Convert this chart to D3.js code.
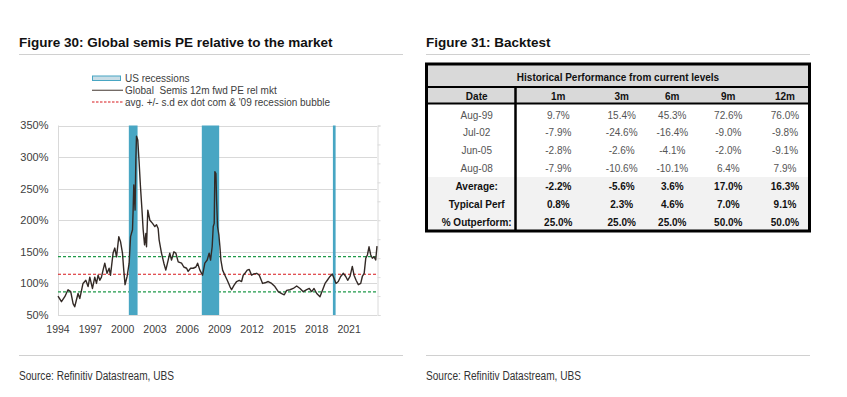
<!DOCTYPE html>
<html>
<head>
<meta charset="utf-8">
<script src="https://cdn.jsdelivr.net/npm/d3@7"></script>
<style>
  body { margin: 0; background: #fff; }
  svg { display: block; font-family: "Liberation Sans", Arial, sans-serif; }
</style>
</head>
<body>
<div id="chart"></div>
<script>
// ---- Figure 30 data ----
const semisDates = [
  1994.60, 1994.92, 1995.23, 1995.53, 1995.78, 1996.00, 1996.15, 1996.46, 1996.62, 1996.92,
  1997.18, 1997.39, 1997.55, 1997.80, 1998.01, 1998.17, 1998.32, 1998.48, 1998.63, 1998.78,
  1998.94, 1999.15, 1999.34, 1999.47, 1999.71, 1999.87, 2000.03, 2000.24, 2000.40, 2000.58,
  2000.70, 2000.82, 2001.01, 2001.20, 2001.33, 2001.51, 2001.57, 2001.63, 2001.75, 2001.82,
  2001.88, 2002.00, 2002.12, 2002.25, 2002.38, 2002.50, 2002.63, 2002.75, 2002.81, 2002.93,
  2003.12, 2003.37, 2003.58, 2003.74, 2003.89, 2003.98, 2004.20, 2004.42, 2004.60, 2004.82,
  2004.97, 2005.13, 2005.35, 2005.53, 2005.75, 2006.06, 2006.27, 2006.53, 2006.67, 2006.90,
  2007.14, 2007.39, 2007.55, 2007.76, 2008.01, 2008.22, 2008.44, 2008.62, 2008.75, 2008.90,
  2009.00, 2009.09, 2009.15, 2009.25, 2009.31, 2009.40, 2009.52, 2009.62, 2009.71, 2009.87,
  2010.08, 2010.30, 2010.55, 2010.70, 2010.92, 2011.17, 2011.41, 2011.63, 2011.78, 2011.94,
  2012.15, 2012.34, 2012.56, 2012.77, 2013.03, 2013.27, 2013.58, 2013.80, 2014.10, 2014.42,
  2014.72, 2015.03, 2015.35, 2015.59, 2015.81, 2016.12, 2016.42, 2016.74, 2017.05, 2017.35,
  2017.67, 2017.91, 2018.13, 2018.35, 2018.60, 2018.90, 2019.15, 2019.37, 2019.58, 2019.83,
  2020.04, 2020.20, 2020.39, 2020.60, 2020.82, 2021.07, 2021.29, 2021.47, 2021.69, 2021.90,
  2022.06, 2022.25, 2022.46, 2022.68, 2022.83, 2023.00, 2023.15, 2023.30, 2023.45, 2023.61,
  2023.76, 2023.92, 2024.07, 2024.19
];
const semisValues = [
  80, 71, 79, 90, 87, 68, 63, 84, 76, 100,
  105, 95, 110, 92, 110, 100, 113, 105, 110, 121,
  132, 116, 124, 113, 148, 156, 142, 174, 166, 148,
  121, 98, 111, 132, 174, 185, 216, 256, 216, 295,
  333, 327, 293, 253, 219, 185, 161, 179, 158, 216,
  200, 195, 190, 193, 187, 169, 148, 132, 121, 137,
  148, 137, 150, 148, 134, 132, 126, 124, 119, 124,
  124, 126, 132, 121, 113, 132, 137, 148, 137, 158,
  190, 195, 277, 274, 232, 190, 177, 158, 137, 121,
  113, 105, 95, 90, 97, 103, 105, 103, 113, 116,
  121, 122, 113, 115, 116, 113, 100, 101, 103, 100,
  95, 87, 84, 82, 89, 90, 92, 96, 92, 87,
  90, 92, 87, 92, 84, 79, 90, 100, 105, 111,
  115, 108, 100, 103, 111, 116, 111, 105, 111, 127,
  113, 105, 98, 100, 111, 116, 140, 145, 158, 145,
  140, 142, 137, 159
];
const recessionStarts = [2001.17, 2007.94, 2020.10];
const recessionEnds = [2001.98, 2009.55, 2020.35];
const avgLevel = 114.5;
const sdLevel = 28;
const yTicks = [50, 100, 150, 200, 250, 300, 350];
const xTickLabels = ["1994", "1997", "2000", "2003", "2006", "2009", "2012", "2015", "2018", "2021"];
const legendLabels = ["US recessions", "Global  Semis 12m fwd PE rel mkt", "avg. +/- s.d ex dot com & '09 recession bubble"];

// ---- Figure 31 data ----
const tableTitle = "Historical Performance from current levels";
const periods = ["1m", "3m", "6m", "9m", "12m"];
const startDates = ["Aug-99", "Jul-02", "Jun-05", "Aug-08"];
const perfAug99 = ["9.7%", "15.4%", "45.3%", "72.6%", "76.0%"];
const perfJul02 = ["-7.9%", "-24.6%", "-16.4%", "-9.0%", "-9.8%"];
const perfJun05 = ["-2.8%", "-2.6%", "-4.1%", "-2.0%", "-9.1%"];
const perfAug08 = ["-7.9%", "-10.6%", "-10.1%", "6.4%", "7.9%"];
const summaryLabels = ["Average:", "Typical Perf", "% Outperform:"];
const avgPerf = ["-2.2%", "-5.6%", "3.6%", "17.0%", "16.3%"];
const typicalPerf = ["0.8%", "2.3%", "4.6%", "7.0%", "9.1%"];
const outperform = ["25.0%", "25.0%", "25.0%", "50.0%", "50.0%"];

const svg = d3.select("#chart").append("svg").attr("width", 847).attr("height", 397);

// ---- headings, rules, sources ----
function frame(x0, x1, title) {
  svg.append("text").attr("x", x0).attr("y", 47).style("font-size", "13.5px")
    .style("font-weight", "bold").attr("fill", "#111").text(title);
  svg.append("line").attr("x1", x0).attr("x2", x1).attr("y1", 54.5).attr("y2", 54.5)
    .attr("stroke", "#d0d0d0");
  svg.append("line").attr("x1", x0).attr("x2", x1).attr("y1", 355.5).attr("y2", 355.5)
    .attr("stroke", "#d0d0d0");
  // condensed face is not installed, so squeeze the regular one
  svg.append("text").attr("x", x0).attr("y", 380)
    .style("font-size", "12px").attr("textLength", 155).attr("lengthAdjust", "spacingAndGlyphs")
    .attr("fill", "#333").text("Source: Refinitiv Datastream, UBS");
}
frame(19, 403, "Figure 30: Global semis PE relative to the market");
frame(426, 810, "Figure 31: Backtest");

// ---- Figure 30 chart ----
const plot = { left: 58, right: 377, top: 125.5, bottom: 315 };
const x = d3.scaleLinear().domain([semisDates[0], semisDates[semisDates.length - 1]]).range([plot.left, plot.right]);
const y = d3.scaleLinear().domain([50, 350]).range([plot.bottom, plot.top]);
const chart = svg.append("g");

chart.append("g").selectAll("line").data(yTicks).enter().append("line")
  .attr("x1", plot.left).attr("x2", plot.right)
  .attr("y1", (d) => Math.round(y(d)) + 0.5).attr("y2", (d) => Math.round(y(d)) + 0.5)
  .attr("stroke", "#d9d9d9");
chart.append("line").attr("x1", plot.left + 0.5).attr("x2", plot.left + 0.5)
  .attr("y1", plot.top).attr("y2", plot.bottom).attr("stroke", "#d9d9d9");

// faint ticks of the hidden secondary axis on the right
const yRec = d3.scaleLinear().domain([0, 1]).range([plot.bottom, plot.top]);
const right = chart.append("g").attr("transform", "translate(" + (plot.right + 0.5) + ",0)")
  .call(d3.axisRight(yRec).ticks(10).tickSize(3).tickFormat(""));
right.select(".domain").attr("stroke", "#dadada");
right.selectAll(".tick line").attr("stroke", "#dadada");

const dash = (level, color) =>
  chart.append("line").attr("x1", plot.left).attr("x2", plot.right)
    .attr("y1", y(level)).attr("y2", y(level))
    .attr("stroke", color).attr("stroke-width", 1.2).attr("stroke-dasharray", "3,2");
dash(avgLevel + sdLevel, "#1f9a4a");
dash(avgLevel - sdLevel, "#1f9a4a");
dash(avgLevel, "#d7191c");

chart.append("g").selectAll("rect").data(recessionStarts).enter().append("rect")
  .attr("x", (d) => x(d)).attr("y", plot.top)
  .attr("width", (d, i) => x(recessionEnds[i]) - x(d)).attr("height", plot.bottom - plot.top)
  .attr("fill", "#48a6c3");

chart.append("path")
  .datum(semisDates.map((d, i) => [d, semisValues[i]]))
  .attr("fill", "none").attr("stroke", "#332a26").attr("stroke-width", 1.4)
  .attr("stroke-linejoin", "round")
  .attr("d", d3.line().x((d) => x(d[0])).y((d) => y(d[1])));

chart.append("g").selectAll("text").data(yTicks).enter().append("text")
  .attr("x", 48.5).attr("y", (d) => y(d)).attr("dy", "0.35em").attr("text-anchor", "end")
  .style("font-size", "11px").attr("fill", "#404040").text((d) => d + "%");

const monthOffset = semisDates[0] % 1;
chart.append("g").selectAll("text").data(xTickLabels).enter().append("text")
  .attr("x", (d) => x(+d + monthOffset)).attr("y", 329).attr("dy", "0.35em")
  .attr("text-anchor", "middle").style("font-size", "10.5px").attr("fill", "#404040").text((d) => d);

// legend
const legend = svg.append("g").style("font-size", "10px").attr("fill", "#404040");
const legendY = [78.5, 90.3, 102];
legend.append("rect").attr("x", 92.5).attr("y", 76).attr("width", 28).attr("height", 4.5)
  .attr("fill", "#c9dde6").attr("stroke", "#48a6c3");
legend.append("line").attr("x1", 92).attr("x2", 123).attr("y1", legendY[1]).attr("y2", legendY[1])
  .attr("stroke", "#6d645e").attr("stroke-width", 1.3);
legend.append("line").attr("x1", 92).attr("x2", 123).attr("y1", legendY[2]).attr("y2", legendY[2])
  .attr("stroke", "#d7191c").attr("stroke-width", 1.1).attr("stroke-dasharray", "2.5,1.5");
legend.selectAll("text").data(legendLabels).enter().append("text")
  .attr("x", 125).attr("y", (d, i) => legendY[i]).attr("dy", "0.35em")
  .style("white-space", "pre").text((d) => d);

// ---- Figure 31 table ----
const tbl = { left: 426.5, right: 809.5, top: 64, head1: 87, head2: 103.5, sumTop: 177, bottom: 231, split: 515.5 };
const colX = [476.7, 558.3, 621.7, 672.3, 728.3, 785];
const rowY = d3.scaleLinear().domain([0, 6]).range([115, 222.5]);
const table = svg.append("g").style("font-size", "10px");

table.append("rect").attr("x", tbl.left).attr("y", tbl.top).attr("width", tbl.right - tbl.left)
  .attr("height", tbl.head2 - tbl.top).attr("fill", "#d9d9d9");
table.append("rect").attr("x", tbl.left).attr("y", tbl.sumTop).attr("width", tbl.right - tbl.left)
  .attr("height", tbl.bottom - tbl.sumTop).attr("fill", "#f2f2f2");
table.append("line").attr("x1", tbl.left).attr("x2", tbl.right).attr("y1", tbl.head1).attr("y2", tbl.head1)
  .attr("stroke", "#000").attr("stroke-width", 2);
table.append("line").attr("x1", tbl.left).attr("x2", tbl.right).attr("y1", tbl.head2).attr("y2", tbl.head2)
  .attr("stroke", "#000").attr("stroke-width", 2);
table.append("line").attr("x1", tbl.split).attr("x2", tbl.split).attr("y1", tbl.head1).attr("y2", tbl.bottom)
  .attr("stroke", "#000").attr("stroke-width", 2.5);
table.append("rect").attr("x", tbl.left).attr("y", tbl.top).attr("width", tbl.right - tbl.left)
  .attr("height", tbl.bottom - tbl.top).attr("fill", "none").attr("stroke", "#000").attr("stroke-width", 3);

table.append("text").attr("x", (tbl.left + tbl.right) / 2).attr("y", 77.5).attr("dy", "0.35em")
  .attr("text-anchor", "middle").style("font-weight", "bold").attr("fill", "#111").text(tableTitle);
table.append("g").selectAll("text").data(["Date"].concat(periods)).enter().append("text")
  .attr("x", (d, i) => colX[i]).attr("y", 96).attr("dy", "0.35em").attr("text-anchor", "middle")
  .style("font-weight", "bold").attr("fill", "#111").text((d) => d);

const dataRows = [perfAug99, perfJul02, perfJun05, perfAug08].map((r, i) => [startDates[i]].concat(r));
const sumRows = [avgPerf, typicalPerf, outperform].map((r, i) => [summaryLabels[i]].concat(r));
const allRows = dataRows.concat(sumRows);
allRows.forEach((row, ri) => {
  const bold = ri >= dataRows.length;
  table.append("g").selectAll("text").data(row).enter().append("text")
    .attr("x", (d, i) => colX[i]).attr("y", rowY(ri)).attr("dy", "0.35em")
    .attr("text-anchor", "middle")
    .style("font-weight", bold ? "bold" : "normal")
    .attr("fill", bold ? "#111" : "#555").text((d) => d);
});
</script>
</body>
</html>
